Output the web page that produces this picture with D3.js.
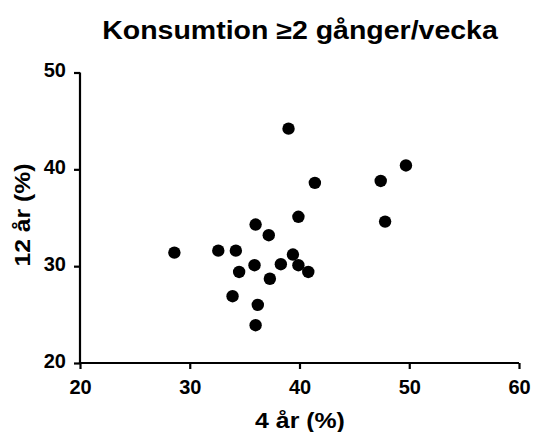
<!DOCTYPE html>
<html>
<head>
<meta charset="utf-8">
<script src="https://cdn.jsdelivr.net/npm/d3@7"></script>
<style>
  html, body { margin: 0; padding: 0; background: #fff; }
  text { font-family: Arial, "Liberation Sans", Helvetica, sans-serif; font-weight: bold; fill: #000; }
</style>
</head>
<body>
<svg id="chart" width="533" height="432"></svg>
<script>
// Consumption share at 4 years (x) vs 12 years (y), one point per group
const xValues = [39.0, 41.4, 39.9, 36.0, 37.2, 28.6, 32.6, 34.2, 39.4, 38.3, 35.9,
                 39.9, 40.8, 34.5, 37.3, 33.9, 36.2, 36.0, 49.7, 47.4, 47.8];
const yValues = [44.2, 38.6, 35.1, 34.3, 33.2, 31.4, 31.6, 31.6, 31.2, 30.2, 30.1,
                 30.1, 29.4, 29.4, 28.7, 26.9, 26.0, 23.9, 40.4, 38.8, 34.6];
const xTicks = [20, 30, 40, 50, 60];
const yTicks = [20, 30, 40, 50];
const titleText = "Konsumtion \u22652 gånger/vecka";
const xLabel = "4 år (%)";
const yLabel = "12 år (%)";

const svg = d3.select("#chart");
const x = d3.scaleLinear().domain([20, 60]).range([80, 519]);
const y = d3.scaleLinear().domain([20, 50]).range([363, 72.5]);

// axes
const xAxis = svg.append("g")
  .attr("transform", `translate(0,${y(20)})`)
  .call(d3.axisBottom(x).tickValues(xTicks).tickSize(6).tickPadding(11).tickSizeOuter(0));
const yAxis = svg.append("g")
  .attr("transform", `translate(${x(20)},0)`)
  .call(d3.axisLeft(y).tickValues(yTicks).tickSize(6).tickPadding(8).tickSizeOuter(0));

[xAxis, yAxis].forEach(g => {
  g.select(".domain").attr("stroke", "#000").attr("stroke-width", 2.2);
  g.selectAll(".tick line").attr("stroke", "#000").attr("stroke-width", 2.2);
  g.selectAll(".tick text")
    .style("font-family", "Arial, 'Liberation Sans', sans-serif")
    .style("font-weight", "bold")
    .style("font-size", "20px")
    .attr("fill", "#000");
});
xAxis.selectAll(".tick text").attr("dy", "0");
xAxis.selectAll(".tick text").attr("y", 31);
// extend domains to close the corner
xAxis.select(".domain").attr("d", `M${x(20) - 1.1},0H${x(60)}`);
yAxis.select(".domain").attr("d", `M0,${y(50)}V${y(20) + 1.1}`);
yAxis.selectAll(".tick text").attr("dy", "0.22em");

// points
svg.append("g")
  .selectAll("circle")
  .data(xValues.map((v, i) => [v, yValues[i]]))
  .join("circle")
  .attr("cx", d => x(d[0]))
  .attr("cy", d => y(d[1]))
  .attr("r", 6.2)
  .attr("fill", "#000");

// title and axis labels (set slightly wide)
svg.append("text")
  .attr("transform", "translate(300,39) scale(1.14,1)")
  .attr("text-anchor", "middle")
  .style("font-size", "25px")
  .text(titleText);

svg.append("text")
  .attr("transform", "translate(300,428) scale(1.13,1)")
  .attr("text-anchor", "middle")
  .style("font-size", "22px")
  .text(xLabel);

svg.append("text")
  .attr("transform", "translate(30,215) rotate(-90) scale(1.1,1)")
  .attr("text-anchor", "middle")
  .style("font-size", "22.5px")
  .text(yLabel);
</script>
</body>
</html>
